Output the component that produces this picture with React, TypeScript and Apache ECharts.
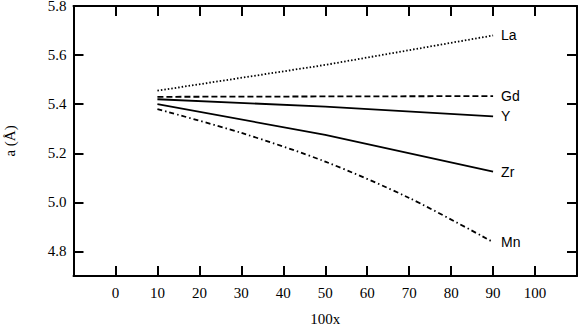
import React, { useEffect, useRef } from "react";
import * as echarts from "echarts";

const xTicks = [0, 10, 20, 30, 40, 50, 60, 70, 80, 90, 100];
const yTicks = [4.8, 5.0, 5.2, 5.4, 5.6, 5.8];

const seriesNames = ["La", "Gd", "Y", "Zr", "Mn"];
const laX = [10, 50, 90];
const laY = [5.455, 5.56, 5.68];
const gdX = [10, 90];
const gdY = [5.43, 5.433];
const yX = [10, 50, 90];
const yY = [5.42, 5.39, 5.35];
const zrX = [10, 50, 90];
const zrY = [5.40, 5.275, 5.125];
const mnX = [10, 30, 50, 70, 90];
const mnY = [5.38, 5.283, 5.166, 5.018, 4.838];

const xs = [laX, gdX, yX, zrX, mnX];
const ys = [laY, gdY, yY, zrY, mnY];
const dashes: any[] = [[1.5, 2], [6, 3], "solid", "solid", [5, 3, 1.5, 3]];

const serif = "Liberation Serif";

export default function App() {
  const ref = useRef<HTMLDivElement>(null);
  useEffect(() => {
    if (!ref.current) return;
    const chart = echarts.init(ref.current, undefined, { renderer: "svg" });
    const axisLine = { show: true, onZero: false, lineStyle: { color: "#000", width: 2 } };
    const tick = (vals: number[]) => ({
      show: true,
      inside: true,
      length: 10,
      lineStyle: { color: "#000", width: 2 },
      customValues: vals,
    });
    const labelStyle = {
      color: "#000",
      fontFamily: serif,
      fontSize: 15,
    };
    chart.setOption({
      animation: false,
      textStyle: { fontFamily: serif },
      grid: {
        left: 73.5,
        right: 2,
        top: 6,
        bottom: 49,
        containLabel: false,
        outerBoundsMode: "none",
      },
      xAxis: [
        {
          type: "value",
          min: -10,
          max: 110,
          position: "bottom",
          axisLine,
          axisTick: tick(xTicks),
          splitLine: { show: false },
          axisLabel: {
            customValues: xTicks,
            margin: 9,
            ...labelStyle,
          },
          name: "100x",
          nameLocation: "middle",
          nameGap: 35,
          nameTextStyle: { ...labelStyle },
        },
        {
          type: "value",
          min: -10,
          max: 110,
          position: "top",
          axisLine,
          axisTick: tick(xTicks),
          splitLine: { show: false },
          axisLabel: { show: false },
        },
      ],
      yAxis: [
        {
          type: "value",
          min: 4.7,
          max: 5.8,
          position: "left",
          axisLine,
          axisTick: tick(yTicks),
          splitLine: { show: false },
          axisLabel: {
            customValues: yTicks,
            formatter: (v: number) => v.toFixed(1),
            margin: 7,
            lineHeight: 12,
            ...labelStyle,
          },
          name: "a (Å)",
          nameLocation: "middle",
          nameGap: 56,
          nameRotate: 90,
          nameTextStyle: { ...labelStyle },
        },
        {
          type: "value",
          min: 4.7,
          max: 5.8,
          position: "right",
          axisLine,
          axisTick: tick(yTicks),
          splitLine: { show: false },
          axisLabel: { show: false },
        },
      ],
      series: seriesNames.map((name, i) => ({
        name,
        type: "line",
        xAxisIndex: 0,
        yAxisIndex: 0,
        symbol: "none",
        smooth: i === 4 ? 0.3 : false,
        data: xs[i].map((x, j) => [x, ys[i][j]]),
        lineStyle: { color: "#000", width: 1.8, type: dashes[i] },
        endLabel: {
          show: true,
          formatter: name,
          color: "#000",
          fontFamily: "Liberation Sans",
          fontSize: 14,
          distance: 8,
        },
      })),
    });
    return () => chart.dispose();
  }, []);
  return (
    <div
      ref={ref}
      style={{ position: "fixed", left: 0, top: 0, width: 579, height: 325, background: "#fff" }}
    />
  );
}
